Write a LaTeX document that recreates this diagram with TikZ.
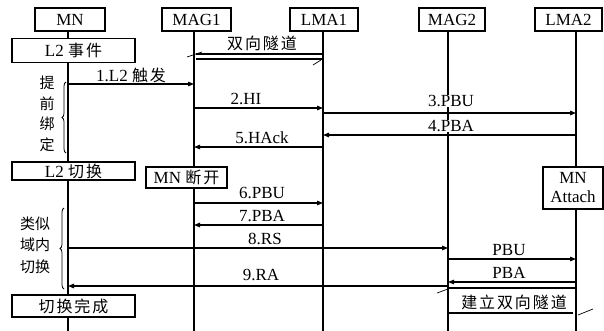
\documentclass[tikz,border=0pt]{standalone}
\usepackage{fontspec}
\setmainfont{Liberation Serif}
\newfontfamily\cjk[LetterSpace=12,Scale=0.94]{Noto Sans CJK SC}
\newfontfamily\cjkt{Noto Sans CJK SC}
\usetikzlibrary{arrows.meta,decorations.pathreplacing,calc}
\begin{document}
\begin{tikzpicture}[x=1pt,y=-1pt,
  every node/.style={font=\fontsize{17}{19}\selectfont, inner sep=0pt},
  box/.style={draw, line width=1.2pt, fill=white},
  lbl/.style={fill=white, inner xsep=1pt, inner ysep=0.5pt},
  life/.style={line width=1.2pt},
  msg/.style={line width=1.2pt, -{Triangle[length=6pt,width=4.5pt]}},
  tun/.style={line width=1.2pt},
  tickm/.style={line width=0.7pt},
  brc/.style={line width=0.8pt, decorate, decoration={brace, amplitude=4pt}},
]
\useasboundingbox (0,0) rectangle (604,331);
% lifeline coordinates
\coordinate (mnT) at (68,31);   \coordinate (mnB) at (68,331);
\coordinate (mag1T) at (194,31); \coordinate (mag1B) at (194,331);
\coordinate (lma1T) at (323,31); \coordinate (lma1B) at (323,331);
\coordinate (mag2T) at (448,31); \coordinate (mag2B) at (448,331);
\coordinate (lma2T) at (576,31); \coordinate (lma2B) at (576,331);
\foreach \p in {mn,mag1,lma1,mag2,lma2} \draw[life] (\p T) -- (\p B);
% header boxes
\node[box, minimum width=70pt, minimum height=23pt] (mn) at (70,19.5) {MN};
\node[box, minimum width=69pt, minimum height=23pt] (mag1) at (196.5,19.5) {MAG1};
\node[box, minimum width=68pt, minimum height=23pt] (lma1) at (324,19.5) {LMA1};
\node[box, minimum width=66pt, minimum height=23pt] (mag2) at (452,19.5) {MAG2};
\node[box, minimum width=67pt, minimum height=23pt] (lma2) at (568.5,19.5) {LMA2};
% state boxes
\node[box, minimum width=123pt, minimum height=24pt] (ev) at (73.5,50.5) {L2 {\cjk 事件}};
\node[box, minimum width=123pt, minimum height=18pt] (sw) at (73.5,171) {L2 {\cjk 切换}};
\node[box, minimum width=81pt, minimum height=21pt] (dis) at (186.5,177.5) {MN {\cjk 断开}};
\node[box, minimum width=60pt, minimum height=42pt, align=center] (att) at (573,188) {MN\\Attach};
\node[box, minimum width=123pt, minimum height=22pt] (done) at (73.5,306) {{\cjk 切换完成}};
% bidirectional tunnel (top)
\draw[tun] (mag1T |- 0,54) ++(2,0) -- (lma1T |- 0,54);
\draw[tun] (mag1T |- 0,59) ++(2,0) -- (lma1T |- 0,59);
\draw[tickm] (mag1T |- 0,57) ++(-7,0) -- ++(15,-5);
\draw[tickm] (lma1T |- 0,65) ++(-10,0) -- ++(8,-5);
\node[lbl] (tn1) at (262,43) {\cjk 双向隧道};
% messages
\draw[msg] (mnT |- 0,84) -- (mag1T |- 0,84);
\node[lbl] (l1) at (131,75) {1.L2 {\cjk 触发}};
\draw[msg] (mag1T |- 0,108) -- (lma1T |- 0,108);
\node[lbl] (l2) at (246,99) {2.HI};
\draw[msg] (lma1T |- 0,113) -- (lma2T |- 0,113);
\node[lbl] (l3) at (451,101) {3.PBU};
\draw[msg] (lma2T |- 0,135) -- (lma1T |- 0,135);
\node[lbl] (l4) at (451,126) {4.PBA};
\draw[msg] (lma1T |- 0,147) -- (mag1T |- 0,147);
\node[lbl] (l5) at (262,138) {5.HAck};
\draw[msg] (mag1T |- 0,203) -- (lma1T |- 0,203);
\node[lbl] (l6) at (262,193) {6.PBU};
\draw[msg] (lma1T |- 0,225) -- (mag1T |- 0,225);
\node[lbl] (l7) at (262,216) {7.PBA};
\draw[msg] (mnT |- 0,248) -- (mag2T |- 0,248);
\node[lbl] (l8) at (265,239) {8.RS};
\draw[msg] (mag2T |- 0,259) -- (lma2T |- 0,259);
\node[lbl] (lpbu) at (509,250) {PBU};
\draw[msg] (lma2T |- 0,282) -- (mag2T |- 0,282);
\node[lbl] (lpba) at (509,273) {PBA};
\draw[msg] (mag2T |- 0,286) -- (mnT |- 0,286);
\node[lbl] (l9) at (261,275) {9.RA};
% bidirectional tunnel (bottom)
\draw[tun] (mag2T |- 0,288) -- (lma2T |- 0,288);
\draw[tun] (mag2T |- 0,313) -- ($(lma2T |- 0,313)+(-3,0)$);
\draw[tickm] (mag2T |- 0,293) ++(-11,0) -- ++(11,-4);
\draw[tickm] (lma2T |- 0,315) ++(2,0) -- ++(15,-6);
\node[lbl] (tn2) at (514,302) {\cjk 建立双向隧道};
% braces and side texts
\draw[brc] (66,153) -- (66,82);
\node[align=center, font={\cjkt\fontsize{15}{20.5}\selectfont}] (pb) at (47,114) {提\\前\\绑\\定};
\draw[brc] (64,289) -- (64,208);
\node[align=center, font={\cjkt\fontsize{15}{21.5}\selectfont}] (ls) at (35,245) {类似\\域内\\切换};
\end{tikzpicture}
\end{document}
